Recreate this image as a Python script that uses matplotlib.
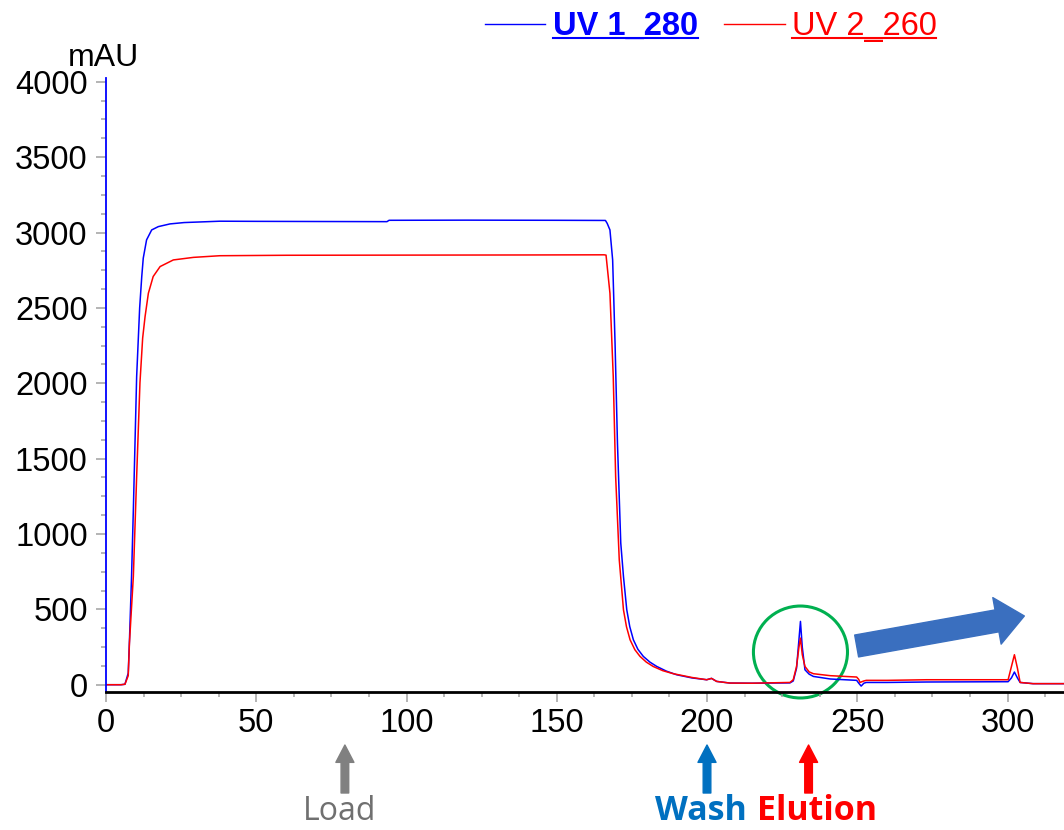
import matplotlib
matplotlib.use("Agg")
import matplotlib.pyplot as plt
import matplotlib.ticker as ticker
from matplotlib.patches import Ellipse
from matplotlib.lines import Line2D

# UV 1_280 (blue)
t_uv1 = [0, 5, 6.3, 7.4, 7.8, 8.5, 9.1, 10.2, 11.2, 11.9, 12.4, 13.5, 15.2, 17.4, 21.3, 26, 31.3,
         37.9, 50, 70, 93.5, 94.2, 120, 150, 166.2, 166.8, 167.7, 168.6, 169.4, 170.2, 171.3, 172.2,
         173.3, 174.3, 175.5, 177, 178.8, 181, 183.3, 186.5, 189.9, 195, 199.9, 201.5, 203.2, 207.6,
         215, 227.6, 228.7, 229.8, 230.6, 231.1, 231.7, 232.6, 234, 235.4, 241, 249.8, 250.5, 251.3,
         252.2, 253, 260, 273, 300.2, 301.3, 302.3, 303.3, 304.2, 308.5, 319]
uv1 = [0, 0, 3, 77, 290, 716, 1160, 2044, 2500, 2708, 2830, 2951, 3017, 3039, 3057, 3066, 3070,
       3075, 3074, 3073, 3072, 3081, 3082, 3081, 3080, 3060, 3017, 2818, 2266, 1603, 940, 718,
       497, 385, 298, 235, 188, 150, 121, 90, 66, 45, 33, 42, 22, 11,
       10, 12, 25, 110, 300, 420, 250, 99, 70, 55, 38, 29, 10, -9,
       10, 15, 15, 18, 20, 45, 84, 45, 15, 7, 7]

# UV 2_260 (red)
t_uv2 = [0, 5, 6.3, 7.4, 7.8, 9.1, 10.2, 11.3, 12.2, 13.0, 14.1, 15.7, 18.0, 22.4, 29.1, 37.9,
         60, 100, 140, 165.8, 166.4, 167.7, 168.8, 169.6, 170.8, 172.2, 173.2, 174.4, 176, 177.7,
         179.8, 182.1, 185.3, 188.8, 195, 199.9, 201.5, 203.2, 207.6, 215, 227.6, 228.7, 229.8,
         230.6, 231.1, 231.7, 232.6, 234, 235.4, 241, 249.8, 250.5, 250.9, 252.2, 253, 260, 273,
         300.2, 301.3, 302.3, 303.3, 304.2, 308.5, 319]
uv2 = [0, 0, 3, 60, 276, 718, 1381, 2003, 2300, 2442, 2597, 2708, 2774, 2818, 2835, 2846,
       2849, 2850, 2851, 2852, 2850, 2597, 2044, 1381, 829, 497, 385, 298, 232, 188,
       150, 121, 93, 73, 48, 33, 42, 22, 11, 10, 15, 33, 121,
       250, 309, 200, 121, 85, 73, 60, 51, 35, 15, 25, 29, 29, 33,
       33, 120, 199, 110, 15, 7, 7]

W, H = 1064, 830
DPI = 100

fig = plt.figure(figsize=(W / DPI, H / DPI), dpi=DPI)
ax = fig.add_axes([106 / W, (H - 691.5) / H, (W - 106) / W, (691.5 - 78) / H])

ax.plot(t_uv1, uv1, color="#0000FF", lw=1.1)
ax.plot(t_uv2, uv2, color="#FF0000", lw=1.1)

ax.set_xlim(0, 318.8)
ax.set_ylim(-45, 4025)

for s in ["top", "right"]:
    ax.spines[s].set_visible(False)
ax.spines["left"].set_color("#0000FF")
ax.spines["left"].set_linewidth(1.3)
ax.spines["bottom"].set_color("black")
ax.spines["bottom"].set_linewidth(2)

ax.xaxis.set_major_locator(ticker.MultipleLocator(50))
ax.xaxis.set_minor_locator(ticker.MultipleLocator(12.5))
ax.yaxis.set_major_locator(ticker.MultipleLocator(500))
ax.yaxis.set_minor_locator(ticker.MultipleLocator(125))
ax.tick_params(which="major", length=7.2, width=1.1, color="#A0A0A0", labelsize=23.5,
               labelcolor="black")
ax.tick_params(which="minor", length=3.6, width=1.1, color="#A0A0A0")
ax.tick_params(axis="x", pad=5)
ax.tick_params(axis="y", pad=6)
for lab in ax.get_xticklabels() + ax.get_yticklabels():
    lab.set_family("Liberation Sans")

fig.text(139 / W, 1 - 66 / H, "mAU", ha="right", va="baseline", fontsize=23,
         family="Liberation Sans")

# legend at the top, underlined names
fig.add_artist(Line2D([485 / W, 545 / W], [1 - 24 / H] * 2, color="#0000FF", lw=1))
fig.add_artist(Line2D([724 / W, 785 / W], [1 - 24 / H] * 2, color="#FF0000", lw=1))
leg1 = fig.text(625.5 / W, 1 - 35 / H, "UV 1_280", ha="center", va="baseline", fontsize=23.5,
                fontweight="bold", color="#0000FF", family="Liberation Sans")
leg2 = fig.text(864 / W, 1 - 35 / H, "UV 2_260", ha="center", va="baseline", fontsize=23.5,
                color="#FF0000", family="Liberation Sans")
fig.canvas.draw()
r = fig.canvas.get_renderer()
for t, c in [(leg1, "#0000FF"), (leg2, "#FF0000")]:
    bb = t.get_window_extent(r)
    fig.add_artist(Line2D([bb.x0 / W, bb.x1 / W], [1 - 38.5 / H] * 2, color=c, lw=1.5))

# circle round the elution peak and the big arrow
ax.add_patch(Ellipse((231.1, 217), 31.3, 610, fill=False, ec="#00B050", lw=2.2, clip_on=False))
ax.annotate("", xy=(305.6, 456), xytext=(249.8, 257),
            arrowprops=dict(arrowstyle="simple,head_width=1.7,head_length=1.0,tail_width=0.8",
                            mutation_scale=20, color="#3A6FBF", shrinkA=0, shrinkB=0),
            annotation_clip=False)

# phase markers under the axis
marks = [(79.5, "Load", "#808080", "#707070", "normal", 339.5, 23),
         (200, "Wash", "#0070C0", "#0070C0", "bold", 700.5, 24.5),
         (233.8, "Elution", "#FF0000", "#FF0000", "bold", 817, 24.5)]
for xm, name, acol, tcol, wt, tx, fs in marks:
    ax.annotate("", xy=(xm, 1 - 745 / H), xycoords=("data", "figure fraction"),
                xytext=(xm, 1 - 793 / H), textcoords=("data", "figure fraction"),
                arrowprops=dict(arrowstyle="simple,head_width=1.3,head_length=1.25,tail_width=0.55",
                                mutation_scale=10, color=acol, shrinkA=0, shrinkB=0),
                annotation_clip=False)
    fig.text(tx / W, 1 - 820 / H, name, ha="center", va="baseline", fontsize=fs,
             fontweight=wt, color=tcol, family="Open Sans")

fig.savefig("out.png", dpi=DPI)
